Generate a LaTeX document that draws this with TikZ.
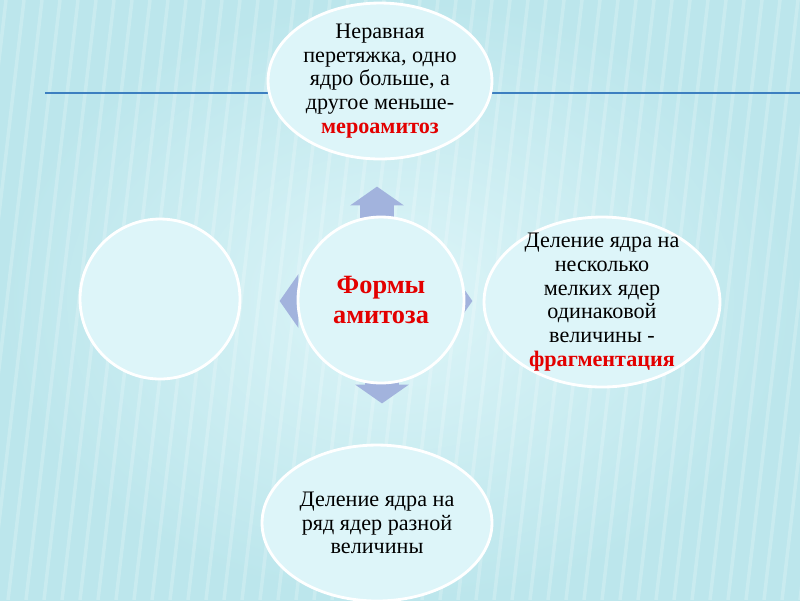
\documentclass[tikz,border=0pt]{standalone}
\usepackage{fontspec}
\setmainfont{Liberation Serif}
\usepackage{tikz}
\usetikzlibrary{shapes.geometric,shapes.arrows}
\definecolor{bgin}{HTML}{DDF5F8}
\definecolor{bgout}{HTML}{BCE6EC}
\definecolor{ovalfill}{HTML}{DDF5F9}
\definecolor{arrowblue}{HTML}{A2B3DD}
\definecolor{lineblue}{HTML}{3C7FC0}
\definecolor{termred}{HTML}{E30000}
\newcommand{\redterm}[1]{\textcolor{termred}{\textbf{#1}}}

\begin{document}
\begin{tikzpicture}[
  x=0.02cm, y=-0.02cm,
  font=\fontsize{12.6}{13.5}\selectfont,
  oval/.style={draw=white, line width=1.6pt, ellipse, fill=ovalfill, align=center, inner xsep=0pt, inner ysep=-6pt},
  hub/.style={draw=white, line width=1.6pt, circle, fill=ovalfill, align=center, minimum size=3.32cm, inner sep=0pt},
  fatarrow/.style={single arrow, fill=arrowblue, minimum height=0.86cm, inner xsep=0pt, inner ysep=0.33cm, single arrow head extend=0.2cm, single arrow tip angle=110}
]
\useasboundingbox (0,0) rectangle (800,600);
\fill[inner color=bgin, outer color=bgout] (0,0) rectangle (800,600);
\foreach \s in {-100,-82,...,820}
  \draw[white, opacity=0.2, line width=2pt] (\s,600) -- (\s+70,0);
\draw[lineblue, line width=1.3pt] (45,93) -- (800,93);
\node[fatarrow, rotate=90]  (arUp)    at (377,214) {};
\node[fatarrow, rotate=270] (arDown)  at (382,376) {};
\node[fatarrow, rotate=180] (arLeft)  at (307,301) {};
\node[fatarrow]             (arRight) at (445,301) {};
\node[hub, font=\fontsize{15}{17.6}\selectfont] (formy) at (381,300) {\redterm{Формы}\\\redterm{амитоза}};
\node[oval, minimum width=4.48cm, minimum height=3.12cm] (mero) at (380,81)
  {Неравная\\перетяжка, одно\\ядро больше, а\\другое меньше-\\\redterm{мероамитоз}};
\node[oval, minimum width=4.72cm, minimum height=3.4cm] (frag) at (602,302)
  {Деление ядра на\\несколько\\мелких ядер\\одинаковой\\величины -\\\redterm{фрагментация}};
\node[oval, minimum width=4.6cm, minimum height=3.12cm] (ryad) at (377,523)
  {Деление ядра на\\ряд ядер разной\\величины};
\node[hub, minimum size=3.2cm] (pusto) at (160,299) {};
\end{tikzpicture}
\end{document}
